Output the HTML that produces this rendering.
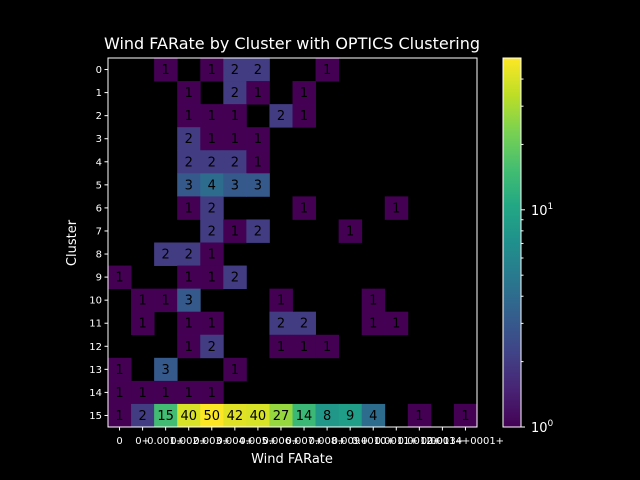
<!DOCTYPE html>
<html><head><meta charset="utf-8"><style>
html,body{margin:0;padding:0;background:#000;}
svg{display:block;font-family:"DejaVu Sans","Liberation Sans",sans-serif;}
</style></head><body>
<svg id="chart" width="640" height="480" viewBox="0 0 640 480">
<rect width="640" height="480" fill="#000"/>
<text x="292" y="49" fill="#fff" font-size="16" text-anchor="middle">Wind FARate by Cluster with OPTICS Clustering</text>
<text x="292" y="463" fill="#fff" font-size="13" text-anchor="middle">Wind FARate</text>
<text x="0" y="0" fill="#fff" font-size="13" text-anchor="middle" transform="translate(76,243) rotate(-90)">Cluster</text>
<g id="cells"></g>
<g id="axes"></g>
<g id="cbar"></g>
</svg>
<script>
const rowLabels = ["0","1","2","3","4","5","6","7","8","9","10","11","12","13","14","15"];
const colLabels = ["0","0+","0.001+","0.002+","0.003+","0.004+","0.005+","0.006+","0.007+","0.008+","0.009+","0.0010+","0.0011+","0.0012+","0.0013+","0.0014+0001+"];
const counts = [
[0,0,1,0,1,2,2,0,0,1,0,0,0,0,0,0],
[0,0,0,1,0,2,1,0,1,0,0,0,0,0,0,0],
[0,0,0,1,1,1,0,2,1,0,0,0,0,0,0,0],
[0,0,0,2,1,1,1,0,0,0,0,0,0,0,0,0],
[0,0,0,2,2,2,1,0,0,0,0,0,0,0,0,0],
[0,0,0,3,4,3,3,0,0,0,0,0,0,0,0,0],
[0,0,0,1,2,0,0,0,1,0,0,0,1,0,0,0],
[0,0,0,0,2,1,2,0,0,0,1,0,0,0,0,0],
[0,0,2,2,1,0,0,0,0,0,0,0,0,0,0,0],
[1,0,0,1,1,2,0,0,0,0,0,0,0,0,0,0],
[0,1,1,3,0,0,0,1,0,0,0,1,0,0,0,0],
[0,1,0,1,1,0,0,2,2,0,0,1,1,0,0,0],
[0,0,0,1,2,0,0,1,1,1,0,0,0,0,0,0],
[1,0,3,0,0,1,0,0,0,0,0,0,0,0,0,0],
[1,1,1,1,1,0,0,0,0,0,0,0,0,0,0,0],
[1,2,15,40,50,42,40,27,14,8,9,4,0,1,0,1]
];
const vmin = 1, vmax = 50;

const NS="http://www.w3.org/2000/svg";
const L=108,R=477,T=58,B=427;
const nr=rowLabels.length,nc=colLabels.length;
const cw=(R-L)/nc,ch=(B-T)/nr;
const xPos=i=>L+i*cw, yPos=j=>T+j*ch;
const vir=[[68,1,84],[72,35,116],[64,67,135],[52,94,141],[41,120,142],[32,144,140],[34,167,132],[68,190,112],[121,209,81],[189,222,38],[253,231,37]];
function cmap(t){t=Math.max(0,Math.min(1,t));const p=t*(vir.length-1);const i=Math.min(vir.length-2,Math.floor(p));const f=p-i;
const c=vir[i].map((v,k)=>Math.round(v+(vir[i+1][k]-v)*f));return `rgb(${c[0]},${c[1]},${c[2]})`;}
const norm=v=>Math.log(v/vmin)/Math.log(vmax/vmin);
function mk(tag,attrs,parent,txt){const e=document.createElementNS(NS,tag);for(const k in attrs)e.setAttribute(k,attrs[k]);if(txt!==undefined)e.textContent=txt;parent.appendChild(e);return e;}

const cells=document.getElementById('cells');
counts.forEach((row,j)=>row.forEach((v,i)=>{
  if(v<=0)return;
  const r=mk('rect',{x:xPos(i),y:yPos(j),width:cw+0.4,height:ch+0.4,fill:cmap(norm(v))},cells);
  
  
  const t=mk('text',{x:xPos(i)+cw/2,y:yPos(j)+ch/2+4.5,'font-size':13,'text-anchor':'middle',fill:'#000'},cells,String(v));
  
  
}));

const ax=document.getElementById('axes');
const frame=mk('rect',{x:L,y:T,width:R-L,height:B-T,fill:'none',stroke:'#fff','stroke-width':1},ax);


rowLabels.forEach((lab,j)=>{
  const y=yPos(j)+ch/2;
  mk('line',{x1:L,x2:L-3.5,y1:y,y2:y,stroke:'#fff'},ax);
  const t=mk('text',{x:L-6,y:y+3.5,'font-size':10,'text-anchor':'end',fill:'#fff'},ax,lab);
  
  
});
colLabels.forEach((lab,i)=>{
  const x=xPos(i)+cw/2;
  mk('line',{x1:x,x2:x,y1:B,y2:B+3.5,stroke:'#fff'},ax);
  const t=mk('text',{x:x,y:B+17,'font-size':10,'text-anchor':'middle',fill:'#fff'},ax,lab);
  
  
});

const cb=document.getElementById('cbar');
const CL=503,CR=521;
const defs=mk('defs',{},cb);
const g=mk('linearGradient',{id:'vg',x1:0,y1:1,x2:0,y2:0},defs);
for(let k=0;k<=20;k++)mk('stop',{offset:k/20,'stop-color':cmap(k/20)},g);
const cbr=mk('rect',{x:CL,y:T,width:CR-CL,height:B-T,fill:'url(#vg)',stroke:'#fff','stroke-width':1},cb);


const cy=v=>B-norm(v)*(B-T);
[2,3,4,5,6,7,8,9,20,30,40].forEach(v=>{const y=cy(v);mk('line',{x1:CR,x2:CR+2.5,y1:y,y2:y,stroke:'#fff'},cb);});
[[1,'0'],[10,'1']].forEach(([v,e])=>{
  const y=cy(v);
  mk('line',{x1:CR,x2:CR+4,y1:y,y2:y,stroke:'#fff'},cb);
  const t=mk('text',{x:CR+10,y:y+5,'font-size':13,fill:'#fff'},cb);
  
  
  t.appendChild(document.createTextNode('10'));
  const s=mk('tspan',{dy:-6,'font-size':9},t,e);
});
</script>
</body></html>
